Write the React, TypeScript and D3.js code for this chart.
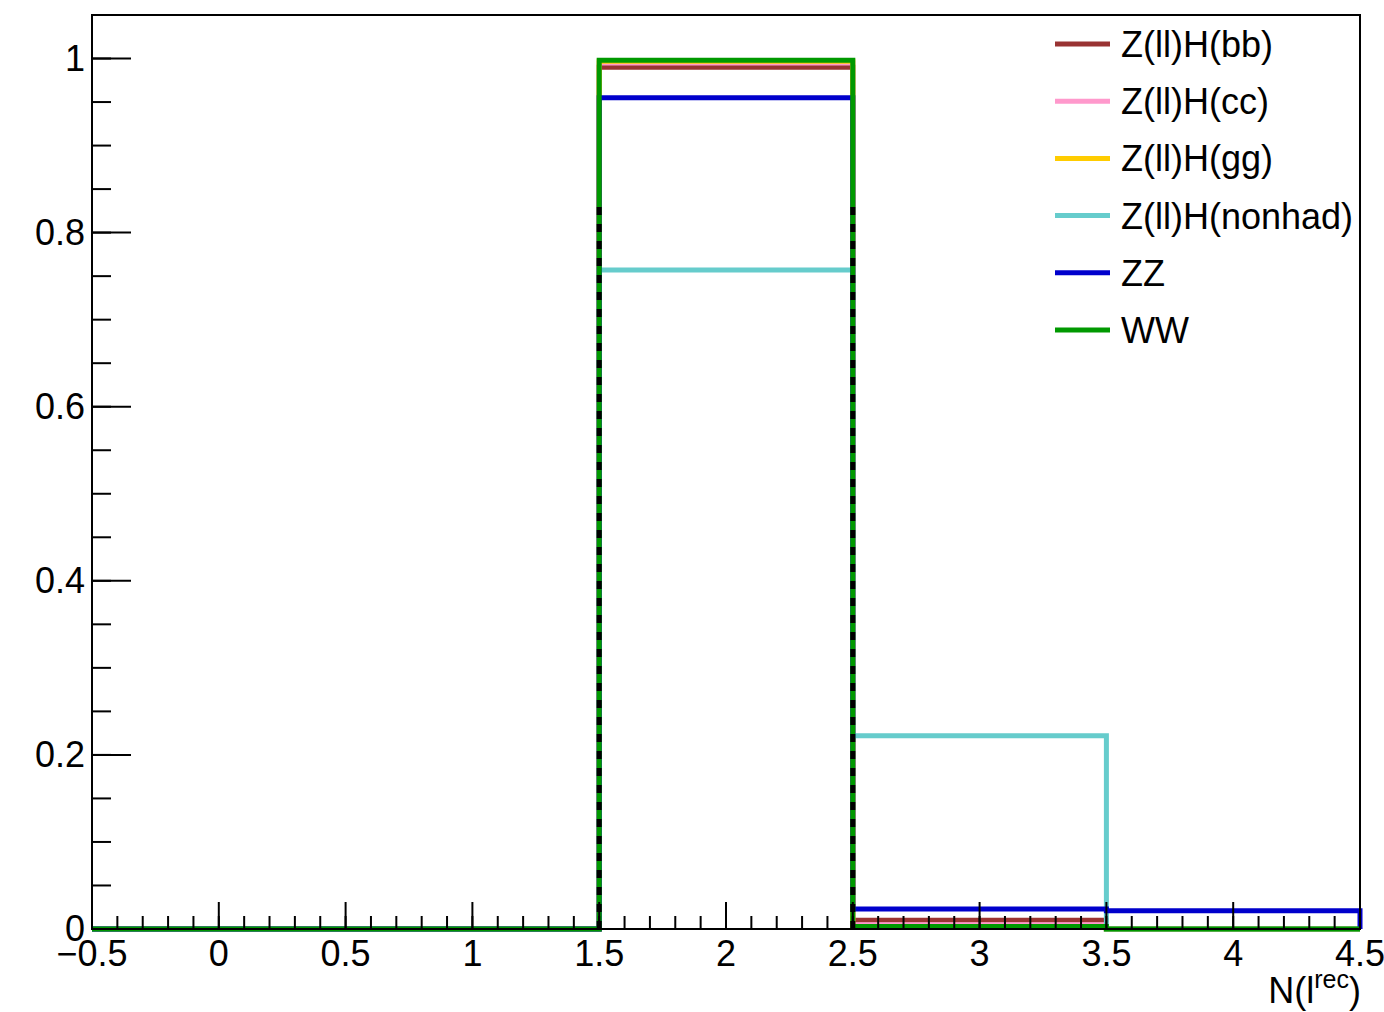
import React from "react";
import * as d3 from "d3";

// Bin edges of N(l^rec) and the normalised content of each sample per bin
const binEdges = [-0.5, 1.5, 2.5, 3.5, 4.5];
const seriesNames = ["Z(ll)H(bb)", "Z(ll)H(cc)", "Z(ll)H(gg)", "Z(ll)H(nonhad)", "ZZ", "WW"];
const seriesColors = ["#993333", "#ff99cc", "#ffcc00", "#66cccc", "#0000cc", "#009900"];
const valuesBB = [0, 0.99, 0.01, 0];
const valuesCC = [0, 0.995, 0.005, 0];
const valuesGG = [0, 0.997, 0.003, 0];
const valuesNonhad = [0, 0.757, 0.222, 0];
const valuesZZ = [0, 0.955, 0.023, 0.021];
const valuesWW = [0, 0.998, 0.003, 0];
// Dashed black edges overlaid on the 2-lepton bin
const dashedEdges = [
  { x: 1.5, top: 0.837 },
  { x: 2.5, top: 0.837 },
];

const xMajorTicks = [-0.5, 0, 0.5, 1, 1.5, 2, 2.5, 3, 3.5, 4, 4.5];
const yMajorTicks = [0, 0.2, 0.4, 0.6, 0.8, 1];

const W = 1384;
const H = 1012;
const left = 92;
const right = 1360;
const top = 15;
const bottom = 929;
const FONT = "'Liberation Sans', Arial, Helvetica, sans-serif";
const FS = 36;

export default function App() {
  const x = d3.scaleLinear().domain([-0.5, 4.5]).range([left, right]);
  const y = d3.scaleLinear().domain([0, 1.05]).range([bottom, top]);

  const allValues = [valuesBB, valuesCC, valuesGG, valuesNonhad, valuesZZ, valuesWW];

  const stepPath = (vals: number[]) => {
    const pts: [number, number][] = [];
    pts.push([x(binEdges[0]), y(0)]);
    vals.forEach((v, i) => {
      pts.push([x(binEdges[i]), y(v)]);
      pts.push([x(binEdges[i + 1]), y(v)]);
    });
    pts.push([x(binEdges[binEdges.length - 1]), y(0)]);
    return d3.line()(pts) as string;
  };

  const xMinor = d3.range(-0.5, 4.5001, 0.1).map((v) => Math.round(v * 10) / 10);
  const yMinor = d3.range(0, 1.0501, 0.05).map((v) => Math.round(v * 100) / 100);

  const fmt = (v: number) => {
    const s = String(v);
    return s.startsWith("-") ? "\u2212" + s.slice(1) : s;
  };

  return (
    <svg width={W} height={H} style={{ position: "absolute", left: 0, top: 0, background: "#fff" }}>
      <rect x={0} y={0} width={W} height={H} fill="#fff" />
      {/* histograms */}
      {allValues.map((vals, i) => (
        <path
          key={seriesNames[i]}
          d={stepPath(vals)}
          fill="none"
          stroke={seriesColors[i]}
          strokeWidth={5}
          strokeLinejoin="miter"
        />
      ))}
      {dashedEdges.map((e) => (
        <line
          key={e.x}
          x1={x(e.x)}
          x2={x(e.x)}
          y1={y(0)}
          y2={y(e.top)}
          stroke="#000"
          strokeWidth={5}
          strokeDasharray="8,9"
        />
      ))}
      {/* frame */}
      <rect x={left} y={top} width={right - left} height={bottom - top} fill="none" stroke="#000" strokeWidth={2} />
      {/* x ticks */}
      {xMinor.map((v) => (
        <line key={"xm" + v} x1={x(v)} x2={x(v)} y1={bottom} y2={bottom - 13} stroke="#000" strokeWidth={2} />
      ))}
      {xMajorTicks.map((v) => (
        <g key={"xM" + v}>
          <line x1={x(v)} x2={x(v)} y1={bottom} y2={bottom - 27} stroke="#000" strokeWidth={2} />
          <text x={x(v)} y={966} textAnchor="middle" fontFamily={FONT} fontSize={FS} fill="#000">
            {fmt(v)}
          </text>
        </g>
      ))}
      {/* y ticks */}
      {yMinor.map((v) => (
        <line key={"ym" + v} x1={left} x2={left + 19} y1={y(v)} y2={y(v)} stroke="#000" strokeWidth={2} />
      ))}
      {yMajorTicks.map((v) => (
        <g key={"yM" + v}>
          <line x1={left} x2={left + 39} y1={y(v)} y2={y(v)} stroke="#000" strokeWidth={2} />
          <text x={85} y={y(v) + 12} textAnchor="end" fontFamily={FONT} fontSize={FS} fill="#000">
            {fmt(v)}
          </text>
        </g>
      ))}
      {/* x title */}
      <text x={1361} y={1003} textAnchor="end" fontFamily={FONT} fontSize={FS} fill="#000">
        N(l
        <tspan dy={-15} fontSize={25}>rec</tspan>
        <tspan dy={15}>)</tspan>
      </text>
      {/* legend */}
      {seriesNames.map((name, i) => {
        const ly = 44 + i * 57.2;
        return (
          <g key={"lg" + name}>
            <line x1={1055} x2={1110} y1={ly} y2={ly} stroke={seriesColors[i]} strokeWidth={5} />
            <text x={1121} y={ly + 13} fontFamily={FONT} fontSize={FS} fill="#000">
              {name}
            </text>
          </g>
        );
      })}
    </svg>
  );
}
